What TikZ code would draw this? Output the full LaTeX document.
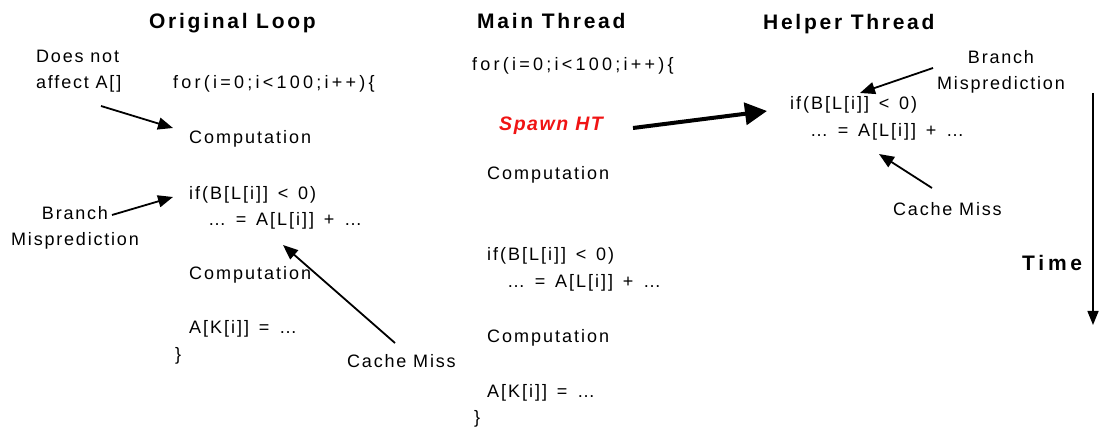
\documentclass[tikz,border=0pt]{standalone}
\usepackage{fontspec}
\setmainfont{Liberation Sans}
\newfontfamily\codefont[LetterSpace=11,WordSpace=1.4]{Liberation Sans}
\newfontfamily\labelfont[LetterSpace=10]{Liberation Sans}
\newfontfamily\forfont[LetterSpace=18]{Liberation Sans}
\newfontfamily\titlefont[LetterSpace=13]{Liberation Sans}
\newfontfamily\spawnfont[LetterSpace=8]{Liberation Sans}
\newfontfamily\timefont[LetterSpace=18]{Liberation Sans}
\usetikzlibrary{arrows.meta}
\definecolor{spawnred}{RGB}{240,20,20}
\begin{document}
\begin{tikzpicture}[x=1pt,y=-1pt,
  txt/.style={inner sep=0pt, anchor=base west, font=\codefont\fontsize{18}{26.5}\selectfont},
  lbl/.style={txt, font=\labelfont\fontsize{18}{26.5}\selectfont},
  fortxt/.style={txt, font=\forfont\fontsize{18}{26}\selectfont},
  ttl/.style={inner sep=0pt, anchor=base west, font=\titlefont\bfseries\fontsize{21}{24}\selectfont},
  arr/.style={line width=1.8pt, -{Triangle[length=15pt,width=12pt]}},
  bigarr/.style={line width=4pt, -{Triangle[length=22pt,width=22pt]}},
  timearr/.style={line width=1.5pt, -{Triangle[length=14pt,width=11pt]}}]
\useasboundingbox (0,0) rectangle (1101,430);
% titles
\node[ttl] (t1) at (149,29) {Original Loop};
\node[ttl] (t2) at (477,29) {Main Thread};
\node[ttl] (t3) at (763,30) {Helper Thread};
% original loop
\node[lbl, align=left] (dna) at (36,89) {Does not\\affect A[]};
\node[fortxt] (for1) at (173,89) {for(i=0;i<100;i++)\{};
\node[txt] (comp1) at (189,144) {Computation};
\node[txt] (if1) at (189,200) {if(B[L[i]] < 0)};
\node[txt] (asn1) at (208,226) {… = A[L[i]] + …};
\node[txt] (comp2) at (189,280) {Computation};
\node[txt] (ak1) at (189,334) {A[K[i]] = …};
\node[txt] (br1) at (175,361) {\}};
\node[lbl, align=center, anchor=base] (bm1) at (75,246) {Branch\\Misprediction};
\node[lbl] (cm1) at (347,368) {Cache Miss};
% main thread
\node[fortxt] (for2) at (472,71) {for(i=0;i<100;i++)\{};
\node[txt, font=\spawnfont\bfseries\itshape\fontsize{19.5}{22}\selectfont, text=spawnred, anchor=base west] (spawn) at (499,131) {Spawn HT};
\node[txt] (comp3) at (487,180) {Computation};
\node[txt] (if2) at (487,261) {if(B[L[i]] < 0)};
\node[txt] (asn2) at (507,288) {… = A[L[i]] + …};
\node[txt] (comp4) at (487,343) {Computation};
\node[txt] (ak2) at (487,398) {A[K[i]] = …};
\node[txt] (br2) at (474,424) {\}};
% helper thread
\node[lbl, align=center, anchor=base] (bm2) at (1001,90) {Branch\\Misprediction};
\node[txt] (if3) at (790,110) {if(B[L[i]] < 0)};
\node[txt] (asn3) at (810,137) {… = A[L[i]] + …};
\node[lbl] (cm2) at (893,216) {Cache Miss};
\node[ttl, font=\timefont\bfseries\fontsize{21}{24}\selectfont] (time) at (1022,271) {Time};
\coordinate (ttop) at (1093,93);
\coordinate (tbot) at (1093,325);
% connectors
\draw[arr] ([shift={(65,17)}]dna.base west) -- ([shift={(-16,-16)}]comp1.base west);
\draw[arr] ([shift={(37,-31)}]bm1.base) -- ([shift={(-16,-3)}]if1.base west);
\draw[arr] ([shift={(48,-25)}]cm1.base west) -- ([shift={(75,19)}]asn1.base west);
\draw[bigarr] ([shift={(134,-3)}]spawn.base west) -- ([shift={(-23,1)}]if3.base west);
\draw[arr] ([shift={(-68,-22)}]bm2.base) -- ([shift={(70,-17)}]if3.base west);
\draw[arr] ([shift={(39,-28)}]cm2.base west) -- ([shift={(69,17)}]asn3.base west);
\draw[timearr] (ttop) -- (tbot);
\end{tikzpicture}
\end{document}
